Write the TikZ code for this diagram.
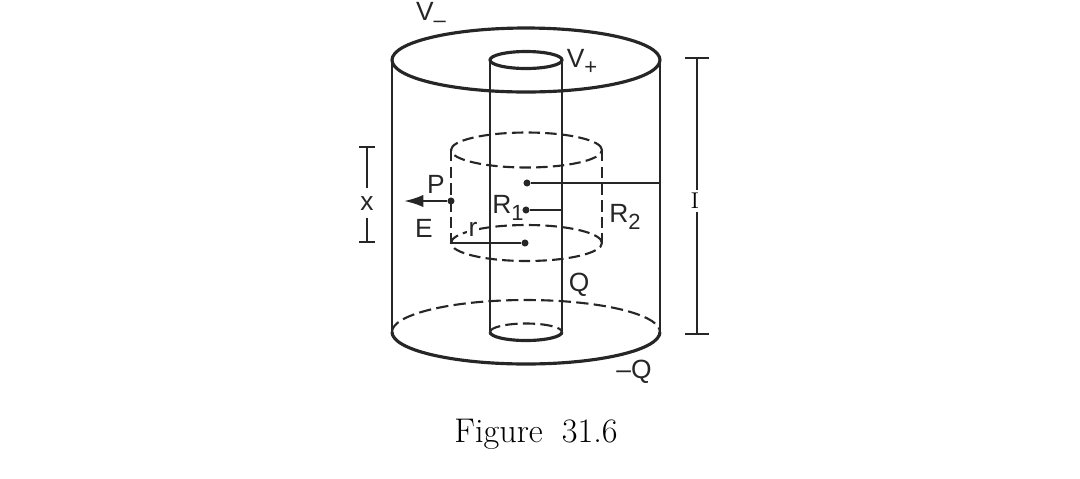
\documentclass[tikz,border=0pt]{standalone}
\usepackage{fontspec}
\usetikzlibrary{arrows.meta}
\newfontfamily\labelfont{Liberation Sans}
\newcommand{\lowtext}[1]{\raisebox{-0.55ex}{\fontsize{12.5}{13}\selectfont #1}}
\tikzset{
  wall/.style={line width=1.3pt,black!85},
  rim/.style={line width=1.8pt,black!85},
  hidden/.style={line width=1.2pt,black!85,dash pattern=on 7pt off 3pt},
  gauss/.style={line width=1.2pt,black!85,dash pattern=on 6.5pt off 3pt},
  lab/.style={inner sep=0pt,font=\labelfont\fontsize{15}{16}\selectfont,text=black!85},
  spot/.style={circle,fill=black!85,inner sep=0pt,minimum size=4pt}
}
\begin{document}
\begin{tikzpicture}[x=0.02cm,y=-0.02cm]
\useasboundingbox (0,0) rectangle (1080,478);
%
\draw[rim] (526,60) ellipse [x radius=2.68cm,y radius=0.64cm];
\draw[rim] (392,332) arc [start angle=180,end angle=360,x radius=2.68cm,y radius=0.64cm];
\draw[hidden] (392,332) arc [start angle=180,end angle=0,x radius=2.68cm,y radius=0.64cm];
\draw[wall] (392,60)--(392,332);
\draw[wall] (660,60)--(660,332);
%
\draw[rim] (526,60) ellipse [x radius=0.72cm,y radius=0.17cm];
\draw[rim] (490,332) arc [start angle=180,end angle=360,x radius=0.72cm,y radius=0.17cm];
\draw[hidden] (490,332) arc [start angle=180,end angle=0,x radius=0.72cm,y radius=0.17cm];
\draw[wall] (490,60)--(490,332);
\draw[wall] (562,60)--(562,332);
%
\draw[gauss] (526.5,150) ellipse [x radius=1.51cm,y radius=0.35cm];
\draw[gauss] (526.5,243) ellipse [x radius=1.51cm,y radius=0.36cm];
\draw[gauss] (451,150)--(451,243);
\draw[gauss] (602,150)--(602,243);
%
\node[spot] (outerspot) at (527,183) {};
\node[spot] (innerspot) at (526,210) {};
\node[spot] (basespot) at (525,243) {};
\node[spot] (pointP) at (451,201) {};
\coordinate (outerwall) at (660,183);
\coordinate (innerwall) at (562,210);
\coordinate (baseedge) at (451,243);
\coordinate (fieldtip) at (404,201);
\draw[wall] (outerspot)--(outerwall);
\draw[wall] (innerspot)--(innerwall);
\draw[wall] (basespot)--(baseedge);
\draw[wall,-{Latex[length=11pt,width=7pt]}] (pointP)--(fieldtip);
%
\node[lab] (Vminus) at (431,15) {V\lowtext{–}};
\node[lab] (Vplus) at (582,62) {V\lowtext{+}};
\node[lab] (P) at (436,184) {P};
\node[lab] (E) at (424,228) {E};
\node[lab,fill=white,inner xsep=1pt] (r) at (473,229) {r};
\node[lab] (Rone) at (508,208) {R\lowtext{1}};
\node[lab] (Rtwo) at (625,217) {R\lowtext{2}};
\node[lab] (Qin) at (579,285) {Q};
\node[lab] (Qout) at (634,372) {–Q};
%
\node[lab] (xlab) at (367,204) {x};
\coordinate (xtop) at (367,147);
\coordinate (xbot) at (367,242);
\draw[wall] (xtop)--(367,188);
\draw[wall] (xbot)--(367,218);
\draw[wall] (359,147)--(375,147);
\draw[wall] (359,242)--(375,242);
%
\node[inner sep=0pt,font=\fontsize{13}{14}\selectfont] (Ilab) at (695,201) {I};
\coordinate (Itop) at (697,58);
\coordinate (Ibot) at (697,334);
\draw[wall] (Itop)--(697,190);
\draw[wall] (Ibot)--(697,212);
\draw[wall] (685,58)--(709,58);
\draw[wall] (685,334)--(709,334);
%
\node[inner sep=0pt,font=\fontsize{19.5}{20}\selectfont] (caption) at (536,434) {Figure\hspace{0.25em} 31.6};
\end{tikzpicture}
\end{document}
